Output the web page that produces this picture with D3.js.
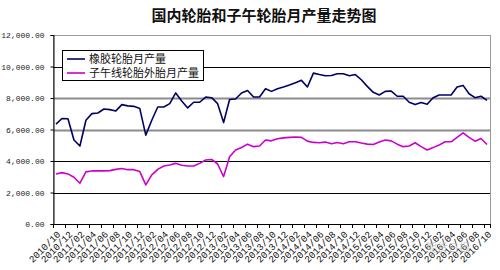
<!DOCTYPE html>
<html>
<head>
<meta charset="utf-8">
<script src="https://cdn.jsdelivr.net/npm/d3@7"></script>
<style>
  body { margin: 0; background: #fff; }
  svg { display: block; }
</style>
</head>
<body>
<script>
// monthly categories 2010/10 .. 2016/10
var months = [
  "2010/10","2010/11","2010/12",
  "2011/01","2011/02","2011/03","2011/04","2011/05","2011/06","2011/07","2011/08","2011/09","2011/10","2011/11","2011/12",
  "2012/01","2012/02","2012/03","2012/04","2012/05","2012/06","2012/07","2012/08","2012/09","2012/10","2012/11","2012/12",
  "2013/01","2013/02","2013/03","2013/04","2013/05","2013/06","2013/07","2013/08","2013/09","2013/10","2013/11","2013/12",
  "2014/01","2014/02","2014/03","2014/04","2014/05","2014/06","2014/07","2014/08","2014/09","2014/10","2014/11","2014/12",
  "2015/01","2015/02","2015/03","2015/04","2015/05","2015/06","2015/07","2015/08","2015/09","2015/10","2015/11","2015/12",
  "2016/01","2016/02","2016/03","2016/04","2016/05","2016/06","2016/07","2016/08","2016/09","2016/10"
];

// 橡胶轮胎月产量
var rubberTyres = [
  6340, 6700, 6680, 5330, 4950, 6590, 7010, 7050, 7300, 7260, 7180, 7580, 7500, 7470, 7330,
  5640, 6590, 7430, 7430, 7640, 8320, 7810, 7370, 7730, 7730, 8060, 8020,
  7640, 6440, 7900, 7940, 8320, 8480, 8060, 8060, 8590, 8420, 8590, 8700,
  8820, 8970, 9120, 8700, 9580, 9490, 9410, 9430, 9540, 9540, 9410, 9490,
  9160, 8740, 8360, 8190, 8420, 8440, 8110, 8110, 7730, 7580, 7710, 7600,
  8020, 8190, 8190, 8190, 8700, 8800, 8270, 8020, 8110, 7850
];

// 子午线轮胎外胎月产量
var radialTyres = [
  3180, 3260, 3180, 2970, 2590, 3310, 3370, 3370, 3370, 3390, 3470, 3520, 3450, 3450, 3330,
  2480, 3120, 3470, 3680, 3750, 3850, 3730, 3680, 3680, 3850, 4060, 4100,
  3810, 3010, 4270, 4700, 4860, 5070, 4910, 4950, 5330, 5280, 5410, 5470,
  5500, 5520, 5500, 5260, 5180, 5160, 5200, 5100, 5180, 5100, 5220, 5220,
  5140, 5070, 5050, 5200, 5330, 5280, 5070, 4910, 4950, 5160, 4910, 4700,
  4850, 5010, 5220, 5220, 5500, 5790, 5500, 5260, 5430, 5050
];

var seriesNames = ["橡胶轮胎月产量", "子午线轮胎外胎月产量"];
var yTicks = [0, 2000, 4000, 6000, 8000, 10000, 12000];
var tickLabels = [
  "2010/10","2010/12","2011/02","2011/04","2011/06","2011/08","2011/10","2011/12",
  "2012/02","2012/04","2012/06","2012/08","2012/10","2012/12",
  "2013/02","2013/04","2013/06","2013/08","2013/10","2013/12",
  "2014/02","2014/04","2014/06","2014/08","2014/10","2014/12",
  "2015/02","2015/04","2015/06","2015/08","2015/10","2015/12",
  "2016/02","2016/04","2016/06","2016/08","2016/10"
];

var w = 500, h = 270;
var pL = 53, pR = 490, pT = 35, pB = 224;
var font = "'Noto Sans CJK SC', 'Noto Sans', sans-serif";

var svg = d3.select("body").append("svg")
    .attr("width", w)
    .attr("height", h);

var x = d3.scaleBand()
    .domain(months)
    .range([pL, pR])
    .padding(0);

var y = d3.scaleLinear()
    .domain([0, 12000])
    .range([pB, pT]);

// title
svg.append("text")
    .attr("x", 264)
    .attr("y", 21)
    .attr("text-anchor", "middle")
    .style("font-family", font)
    .style("font-size", "15px")
    .style("font-weight", "bold")
    .style("fill", "#111")
    .text("国内轮胎和子午轮胎月产量走势图");

// plot frame
svg.append("rect")
    .attr("x", pL + 0.5)
    .attr("y", pT + 0.5)
    .attr("width", pR - pL)
    .attr("height", pB - pT)
    .style("fill", "#fff")
    .style("stroke", "#999")
    .style("stroke-width", 1);

// gridlines
svg.append("g").selectAll("line")
    .data(yTicks.filter(function(d) { return d > 0 && d < 12000; }))
    .enter().append("line")
    .attr("x1", pL)
    .attr("x2", pR)
    .attr("y1", function(d) { return Math.round(y(d)) + 0.5; })
    .attr("y2", function(d) { return Math.round(y(d)) + 0.5; })
    .style("stroke", function(d) { return (d == 6000 || d == 8000) ? "#8c8c8c" : "#000"; })
    .style("stroke-width", function(d) { return (d == 6000 || d == 8000) ? 2 : 1; });

// y axis
var yAxis = d3.axisLeft(y)
    .tickValues(yTicks)
    .tickSize(3)
    .tickFormat(d3.format(",.2f"));

var gy = svg.append("g")
    .attr("transform", "translate(" + (pL + 0.5) + ",0)")
    .call(yAxis);
gy.select(".domain").style("stroke", "#000");
gy.selectAll(".tick line").style("stroke", "#000");
gy.selectAll("text")
    .attr("x", -9)
    .style("font-family", "'Liberation Mono', monospace")
    .style("font-size", "8px")
    .style("fill", "#222");

// x axis: ticks every 2 categories on band edges
var tickEdges = months.filter(function(d, i) { return i % 2 == 0; }).concat([null]);
var gx = svg.append("g");
gx.append("line")
    .attr("x1", pL)
    .attr("x2", pR)
    .attr("y1", pB + 0.5)
    .attr("y2", pB + 0.5)
    .style("stroke", "#000");
gx.selectAll("line.tk")
    .data(tickEdges)
    .enter().append("line")
    .attr("class", "tk")
    .attr("x1", function(d) { return Math.round(d ? x(d) : pR) + 0.5; })
    .attr("x2", function(d) { return Math.round(d ? x(d) : pR) + 0.5; })
    .attr("y1", pB)
    .attr("y2", pB + 4)
    .style("stroke", "#000");

gx.selectAll("text")
    .data(tickLabels)
    .enter().append("text")
    .attr("transform", function(d) {
        return "translate(" + (x(d) + x.bandwidth() / 2 + 5) + "," + (pB + 11) + ")rotate(-45)";
    })
    .attr("text-anchor", "end")
    .style("font-family", "'Liberation Mono', monospace")
    .style("font-size", "9.5px")
    .style("fill", "#111")
    .text(function(d) { return d; });

// lines
var line = d3.line()
    .x(function(d, i) { return x(months[i]) + x.bandwidth() / 2; })
    .y(function(d) { return y(d); });

svg.append("path")
    .datum(radialTyres)
    .attr("d", line)
    .style("fill", "none")
    .style("stroke", "#cc00cc")
    .style("stroke-width", 1.6)
    .style("stroke-linejoin", "round");

svg.append("path")
    .datum(rubberTyres)
    .attr("d", line)
    .style("fill", "none")
    .style("stroke", "#000066")
    .style("stroke-width", 1.6)
    .style("stroke-linejoin", "round");

// legend
var legend = svg.append("g");
legend.append("rect")
    .attr("x", 62.5)
    .attr("y", 50.5)
    .attr("width", 141)
    .attr("height", 30)
    .style("fill", "#fff")
    .style("stroke", "#000");

var colors = ["#000066", "#cc00cc"];
var li = legend.selectAll("g.item")
    .data(seriesNames)
    .enter().append("g")
    .attr("class", "item")
    .attr("transform", function(d, i) { return "translate(0," + (59 + i * 14) + ")"; });
li.append("line")
    .attr("x1", 67)
    .attr("x2", 85)
    .style("stroke", function(d, i) { return colors[i]; })
    .style("stroke-width", 1.6);
li.append("text")
    .attr("x", 89)
    .attr("y", 4)
    .style("font-family", font)
    .style("font-size", "11px")
    .style("fill", "#111")
    .text(function(d) { return d; });

// faint watermark
svg.append("text")
    .attr("x", 470)
    .attr("y", 252)
    .attr("text-anchor", "end")
    .style("font-family", font)
    .style("font-size", "11px")
    .style("fill", "#bbb")
    .style("opacity", 0.7)
    .text("期货日报");
</script>
</body>
</html>
